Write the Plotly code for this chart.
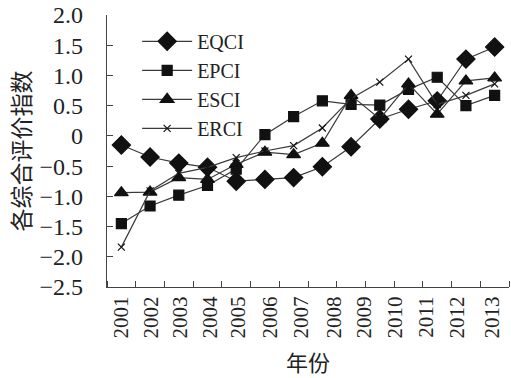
import plotly.graph_objects as go

# 14 observation points (the chart plots 14 points under 13 year labels)
point_pos = [0, 1, 2, 3, 4, 5, 6, 7, 8, 9, 10, 11, 12, 13]

eqci = [-0.15, -0.35, -0.45, -0.52, -0.75, -0.72, -0.69, -0.51, -0.18, 0.28, 0.44, 0.58, 1.27, 1.47]
epci = [-1.45, -1.16, -0.98, -0.82, -0.55, 0.02, 0.32, 0.58, 0.52, 0.51, 0.77, 0.97, 0.50, 0.67]
esci = [-0.94, -0.93, -0.69, -0.72, -0.47, -0.27, -0.31, -0.12, 0.67, 0.28, 0.86, 0.36, 0.91, 0.96]
erci = [-1.84, -0.91, -0.62, -0.52, -0.36, -0.25, -0.16, 0.13, 0.62, 0.89, 1.27, 0.52, 0.67, 0.86]

year_labels = ["2001", "2002", "2003", "2004", "2005", "2006", "2007",
               "2008", "2009", "2010", "2011", "2012", "2013"]
year_label_pos = [0.0, 1.05, 2.05, 3.08, 4.08, 5.17, 6.27, 7.42, 8.45, 9.55, 10.62, 11.68, 12.9]

y_ticks = [2.0, 1.5, 1.0, 0.5, 0.0, -0.5, -1.0, -1.5, -2.0, -2.5]
y_tick_text = ["2.0", "1.5", "1.0", "0.5", "0", "\u22120.5", "\u22121.0", "\u22121.5", "\u22122.0", "\u22122.5"]

FONT = "Liberation Serif, Times New Roman, Noto Sans CJK SC, serif"
LINE = "#3a3a3a"
MARK = "#111111"

series = [
    ("EQCI", eqci, "diamond", 14),
    ("EPCI", epci, "square", 10),
    ("ESCI", esci, "triangle-up", 12),
    ("ERCI", erci, "x-thin", 7),
]

fig = go.Figure()
for name, vals, sym, size in series:
    fig.add_trace(go.Scatter(
        x=point_pos, y=vals, name=name, mode="lines+markers",
        line=dict(color=LINE, width=1.2),
        marker=dict(symbol=sym, size=size, color=MARK,
                    line=dict(color=MARK, width=1.2)),
    ))

fig.update_layout(
    width=511, height=378,
    margin=dict(l=107, r=2, t=15, b=91),
    paper_bgcolor="white", plot_bgcolor="white",
    font=dict(family=FONT, color="#222", size=22),
    showlegend=True,
    legend=dict(x=0.075, y=0.975, xanchor="left", yanchor="top",
                bgcolor="rgba(0,0,0,0)", font=dict(size=20, family=FONT),
                itemwidth=50, tracegroupgap=0),
)

fig.update_xaxes(
    range=[-0.5, 13.5], showgrid=False, zeroline=False, automargin=False,
    showline=True, linecolor="#444", linewidth=1.2,
    tickmode="array", tickvals=year_label_pos, ticktext=year_labels,
    tickangle=-90, ticks="", tickfont=dict(size=21, family=FONT),
    minor=dict(tick0=-0.5, dtick=1, ticks="inside", ticklen=6,
               tickcolor="#444", tickwidth=1.2, showgrid=False),
    title=dict(text="年份", font=dict(size=22, family="Noto Sans CJK SC"), standoff=18),
)
fig.update_yaxes(
    range=[-2.5, 2.0], showgrid=False, zeroline=False, automargin=False,
    showline=True, linecolor="#444", linewidth=1.2,
    tickmode="array", tickvals=y_ticks, ticktext=y_tick_text,
    ticks="inside", ticklen=6, tickcolor="#444", tickwidth=1.2,
    tickfont=dict(size=24, family=FONT), ticklabelstandoff=18,
    title=dict(text="各综合评价指数", font=dict(size=23, family="Noto Sans CJK SC"), standoff=2),
)

fig.write_html("out.html", config={"displayModeBar": False},
               post_script="document.body.style.margin='0';")
